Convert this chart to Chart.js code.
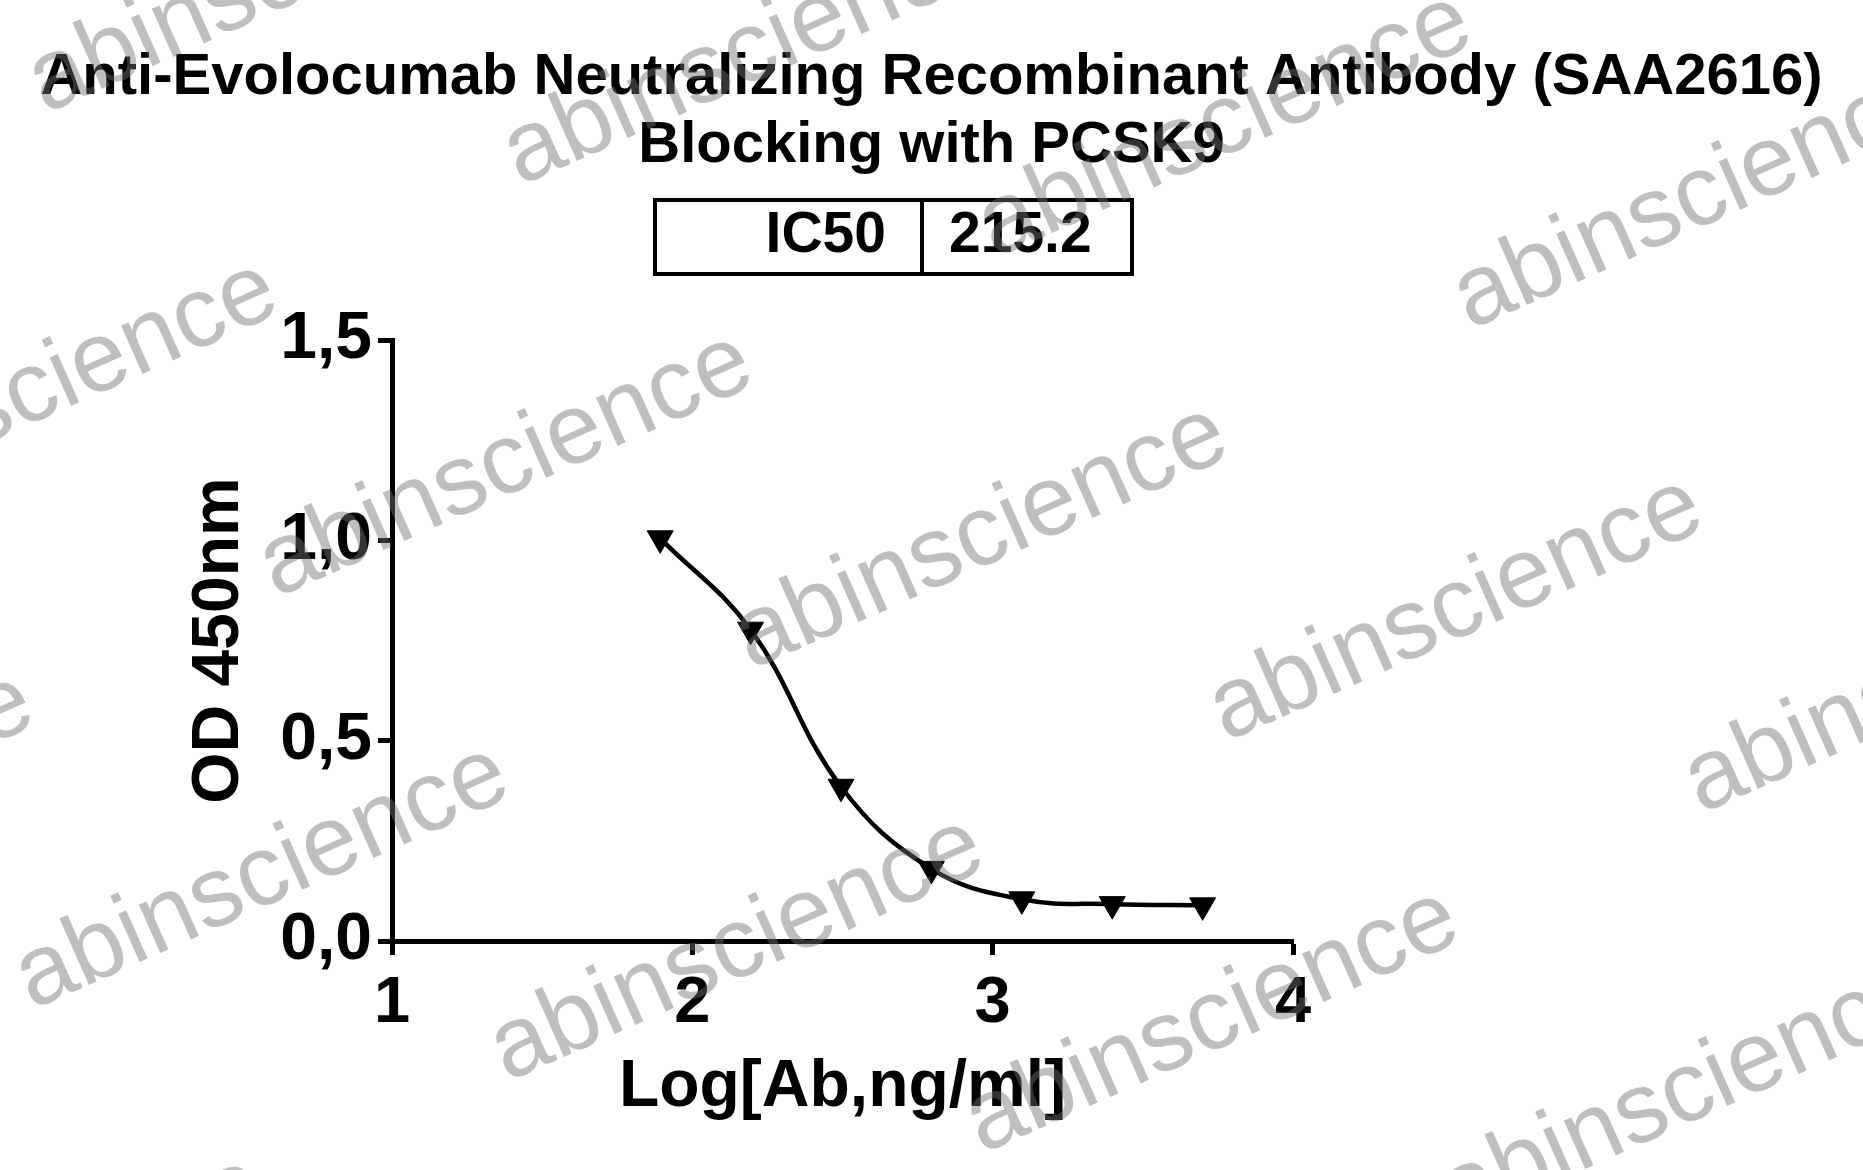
<!DOCTYPE html>
<html><head><meta charset="utf-8">
<script src="https://cdn.jsdelivr.net/npm/chart.js@4/dist/chart.umd.min.js"></script>
<style>html,body{margin:0;padding:0;background:#fff;}canvas{display:block;}</style>
</head><body>
<canvas id="c" width="1863" height="1170"></canvas>
<script>
// ---- data ----
const titleLines = ['Anti-Evolocumab Neutralizing Recombinant Antibody (SAA2616)', 'Blocking with PCSK9'];
const logConc = [1.893, 2.194, 2.495, 2.796, 3.097, 3.398, 3.699];
const od450 = [1.005, 0.777, 0.385, 0.180, 0.104, 0.092, 0.089];
const xTicks = [1, 2, 3, 4];
const xTickLabels = ['1', '2', '3', '4'];
const yTicks = [0, 0.5, 1.0, 1.5];
const yTickLabels = ['0,0', '0,5', '1,0', '1,5'];
const xTitle = 'Log[Ab,ng/ml]';
const yTitle = 'OD 450nm';
const ic50Label = 'IC50';
const ic50Value = '215.2';
const watermarkText = 'abinscience';

const FAM = '"Liberation Sans", Arial, Helvetica, sans-serif';

const titlePlugin = {
  id: 'titleAndTable',
  afterDraw(chart) {
    const ctx = chart.ctx;
    ctx.save();
    ctx.fillStyle = '#000';
    ctx.textAlign = 'center';
    ctx.textBaseline = 'middle';
    ctx.font = 'bold 58px ' + FAM;
    titleLines.forEach((t, i) => ctx.fillText(t, chart.width / 2, 78 + i * 68));
    // IC50 table
    ctx.strokeStyle = '#000';
    ctx.lineWidth = 4;
    ctx.strokeRect(655, 200, 477, 74);
    ctx.beginPath();
    ctx.moveTo(922, 200); ctx.lineTo(922, 274);
    ctx.stroke();
    ctx.font = 'bold 57px ' + FAM;
    ctx.textAlign = 'right';
    ctx.fillText(ic50Label, 886, 236);
    ctx.textAlign = 'left';
    ctx.fillText(ic50Value, 949, 236);
    ctx.restore();
  }
};

const watermarkPlugin = {
  id: 'watermark',
  afterDraw(chart) {
    const ctx = chart.ctx;
    ctx.save();
    ctx.font = '100px ' + FAM;
    ctx.fillStyle = 'rgba(114,114,114,0.45)';
    ctx.textBaseline = 'alphabetic';
    ctx.textAlign = 'left';
    const ang = -24 * Math.PI / 180;
    for (let r = -1; r <= 3; r++) {
      for (let c = -2; c <= 4; c++) {
        const x = 32 + c * 475 + r * 244;
        const y = 1010 + c * 72 - r * 412;
        ctx.save();
        ctx.translate(x, y);
        ctx.rotate(ang);
        ctx.fillText(watermarkText, 0, 0);
        ctx.restore();
      }
    }
    ctx.restore();
  }
};

new Chart(document.getElementById('c'), {
  type: 'scatter',
  data: {
    datasets: [{
      data: logConc.map((x, i) => ({ x: x, y: od450[i] })),
      showLine: true,
      tension: 0.4,
      borderColor: '#000',
      borderWidth: 4.5,
      backgroundColor: '#000',
      pointStyle: 'triangle',
      rotation: 180,
      pointRadius: 15,
      pointBackgroundColor: '#000',
      pointBorderColor: '#000',
      pointBorderWidth: 1,
      clip: false
    }]
  },
  options: {
    responsive: false,
    animation: false,
    events: [],
    layout: { padding: { left: 0, right: 570, top: 340, bottom: 0 } },
    plugins: {
      legend: { display: false },
      tooltip: { enabled: false },
      title: { display: false }
    },
    scales: {
      x: {
        type: 'linear',
        min: 1, max: 4,
        afterBuildTicks: s => { s.ticks = xTicks.map(v => ({ value: v })); },
        afterFit: s => { s.height = 229; },
        ticks: {
          color: '#000',
          font: { family: FAM, size: 65, weight: 'bold' },
          padding: 10,
          maxRotation: 0,
          callback: (v) => xTickLabels[xTicks.indexOf(v)]
        },
        grid: { drawOnChartArea: false, drawTicks: true, tickLength: 14, tickWidth: 5, tickColor: '#000' },
        border: { display: true, color: '#000', width: 5 },
        title: {
          display: true, text: xTitle, color: '#000',
          font: { family: FAM, size: 66, weight: 'bold', lineHeight: 1.2 },
          padding: { top: 0, bottom: 43 }
        }
      },
      y: {
        type: 'linear',
        min: 0, max: 1.5,
        afterBuildTicks: s => { s.ticks = yTicks.map(v => ({ value: v })); },
        afterFit: s => { s.width = 392; },
        ticks: {
          color: '#000',
          font: { family: FAM, size: 66, weight: 'bold' },
          padding: 6,
          callback: (v) => yTickLabels[yTicks.indexOf(v)]
        },
        grid: { drawOnChartArea: false, drawTicks: true, tickLength: 14, tickWidth: 5, tickColor: '#000' },
        border: { display: true, color: '#000', width: 5 },
        title: {
          display: true, text: yTitle, color: '#000',
          font: { family: FAM, size: 66, weight: 'bold', lineHeight: 1.2 },
          padding: { top: 180, bottom: 0 }
        }
      }
    }
  },
  plugins: [titlePlugin, watermarkPlugin]
});
</script>
</body></html>
